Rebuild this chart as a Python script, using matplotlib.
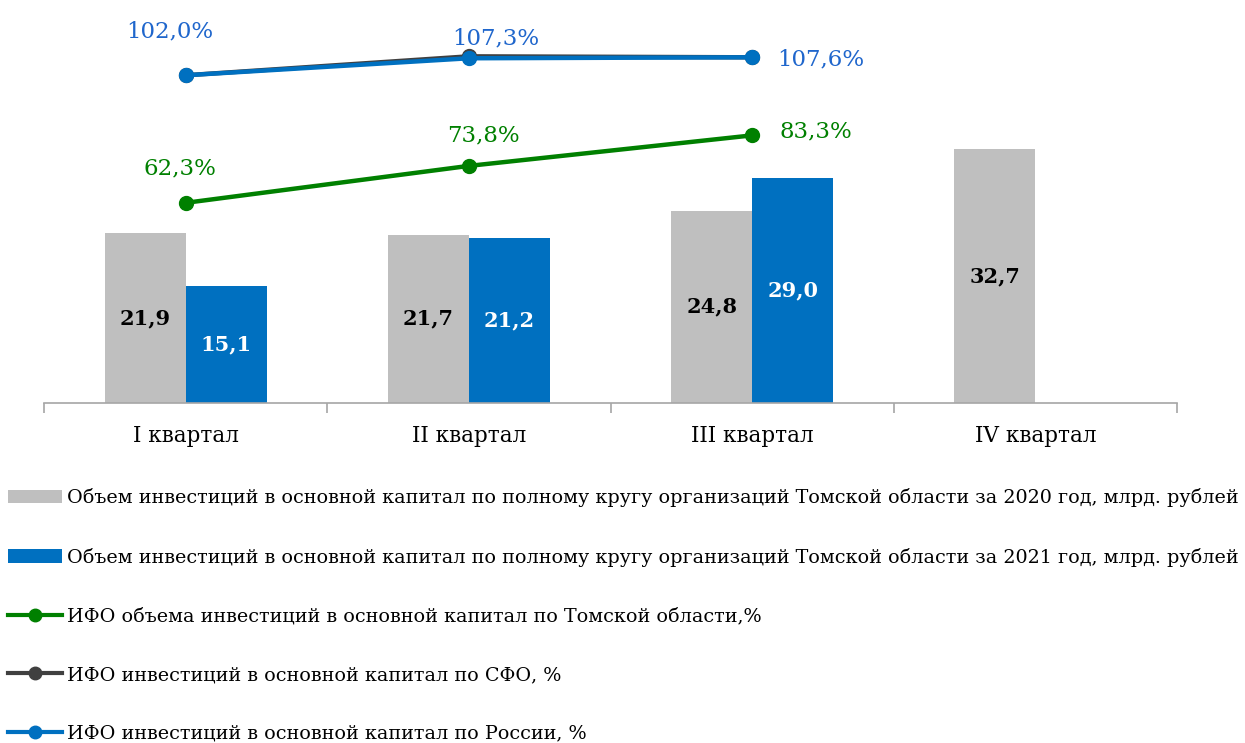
import matplotlib
matplotlib.use("Agg")
import matplotlib.pyplot as plt
import numpy as np
from matplotlib.lines import Line2D
from matplotlib.patches import Patch

# ---- data ----
categories = ["I квартал", "II квартал", "III квартал", "IV квартал"]
inv_2020 = [21.9, 21.7, 24.8, 32.7]
inv_2021 = [15.1, 21.2, 29.0]
ifo_tomsk = [62.3, 73.8, 83.3]
ifo_sfo = [102.0, 107.9, 107.6]
ifo_russia = [102.0, 107.3, 107.6]

bar_labels_2020 = ["21,9", "21,7", "24,8", "32,7"]
bar_labels_2021 = ["15,1", "21,2", "29,0"]
tomsk_labels = ["62,3%", "73,8%", "83,3%"]
russia_labels = ["102,0%", "107,3%", "107,6%"]

legend_labels = [
    "Объем инвестиций в основной капитал по полному кругу организаций Томской области за 2020 год, млрд. рублей",
    "Объем инвестиций в основной капитал по полному кругу организаций Томской области за 2021 год, млрд. рублей",
    "ИФО объема инвестиций в основной капитал по Томской области,%",
    "ИФО инвестиций в основной капитал по СФО, %",
    "ИФО инвестиций в основной капитал по России, %",
]

# ---- style ----
C_GREY = "#BFBFBF"
C_BLUE = "#0070C0"
C_GREEN = "#008000"
C_DARK = "#404040"
C_LBLUE_TXT = "#1F66CC"
C_AXIS = "#A6A6A6"
FONT = ["DejaVu Serif"]
plt.rcParams["font.family"] = FONT

W, H = 1245, 743
fig = plt.figure(figsize=(W / 100, H / 100), dpi=100)
ax = fig.add_axes([44 / W, 1 - 403 / H, (1177 - 44) / W, 400 / H])
ax2 = ax.twinx()

x = np.arange(len(categories))
bw = 0.286
b1 = ax.bar(x - bw / 2, inv_2020, width=bw, color=C_GREY, zorder=2)
x21 = np.arange(len(inv_2021))
b2 = ax.bar(x21 + bw / 2, inv_2021, width=bw, color=C_BLUE, zorder=2)

for rect, lab in zip(b1, bar_labels_2020):
    ax.text(rect.get_x() + rect.get_width() / 2, rect.get_height() / 2, lab,
            ha="center", va="center", fontsize=15, fontweight="bold", color="black")
for rect, lab in zip(b2, bar_labels_2021):
    ax.text(rect.get_x() + rect.get_width() / 2, rect.get_height() / 2, lab,
            ha="center", va="center", fontsize=15, fontweight="bold", color="white")

ax.set_xlim(-0.5, 3.5)
ax.set_ylim(0, 51.55)
ax2.set_ylim(0, 124.5)

xl = np.arange(len(ifo_tomsk))
ax2.plot(xl, ifo_sfo, color=C_DARK, lw=3.2, marker="o", ms=10, zorder=3)
ax2.plot(xl, ifo_russia, color=C_BLUE, lw=3.2, marker="o", ms=10, zorder=4)
ax2.plot(xl, ifo_tomsk, color=C_GREEN, lw=3.2, marker="o", ms=10, zorder=4)

russia_off = [(-16, 44), (27, 20), (69, -2)]
tomsk_off = [(-6, 34), (15, 30), (64, 4)]
for xi, v, lab, off in zip(xl, ifo_russia, russia_labels, russia_off):
    ax2.annotate(lab, (xi, v), xytext=off, textcoords="offset pixels",
                 ha="center", va="center", fontsize=16.5, color=C_LBLUE_TXT)
for xi, v, lab, off in zip(xl, ifo_tomsk, tomsk_labels, tomsk_off):
    ax2.annotate(lab, (xi, v), xytext=off, textcoords="offset pixels",
                 ha="center", va="center", fontsize=16.5, color=C_GREEN)

for a in (ax, ax2):
    for s in ("top", "right", "left"):
        a.spines[s].set_visible(False)
    a.set_yticks([])
ax2.spines["bottom"].set_visible(False)
ax.spines["bottom"].set_color(C_AXIS)
ax.spines["bottom"].set_linewidth(1.2)
ax.set_xticks(np.arange(-0.5, 4.0, 1.0))
ax.set_xticklabels([])
ax.tick_params(axis="x", which="major", length=7, color=C_AXIS, width=1.2)
ax.set_xticks(x, minor=True)
ax.set_xticklabels(categories, minor=True, fontsize=15.5)
ax.tick_params(axis="x", which="minor", length=0, pad=16)

handles = [
    Patch(facecolor=C_GREY, edgecolor="none"),
    Patch(facecolor=C_BLUE, edgecolor="none"),
    Line2D([0], [0], color=C_GREEN, lw=3, marker="o", ms=9),
    Line2D([0], [0], color=C_DARK, lw=3, marker="o", ms=9),
    Line2D([0], [0], color=C_BLUE, lw=3, marker="o", ms=9),
]
fig.legend(handles, legend_labels, loc="upper left", bbox_to_anchor=(8 / W, 1 - 488 / H),
           frameon=False, fontsize=13.8, handlelength=2.8, handletextpad=0.3,
           labelspacing=2.12, borderpad=0, borderaxespad=0, handleheight=0.7)

fig.savefig("out.png", dpi=100)
